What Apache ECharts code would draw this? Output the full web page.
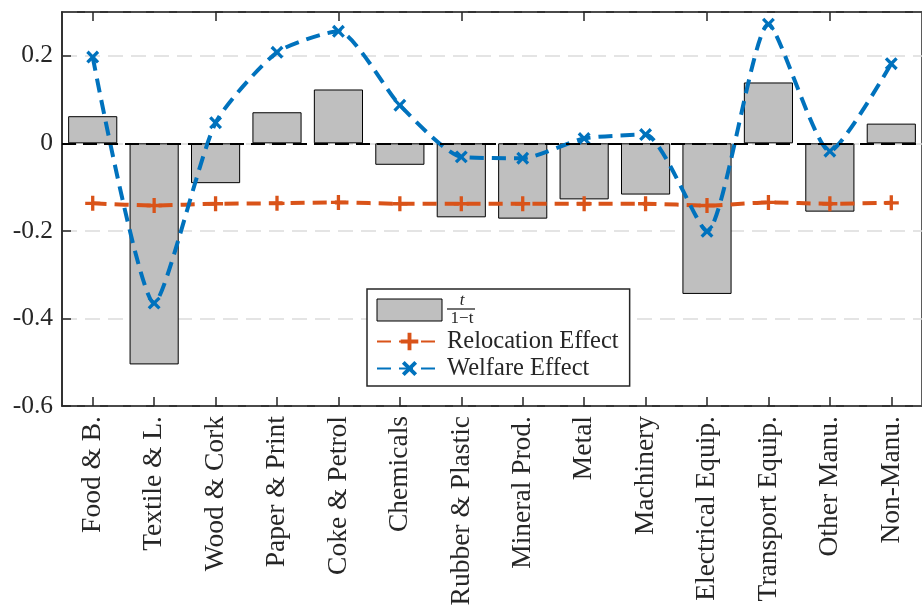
<!DOCTYPE html>
<html><head><meta charset="utf-8">
<script src="https://cdn.jsdelivr.net/npm/echarts@6/dist/echarts.min.js"></script>
<style>html,body{margin:0;padding:0;background:#fff}#c{width:922px;height:613px}</style>
</head><body><div id="c"></div>
<script>
const categories = ['Food & B.', 'Textile & L.', 'Wood & Cork', 'Paper & Print', 'Coke & Petrol', 'Chemicals', 'Rubber & Plastic', 'Mineral Prod.', 'Metal', 'Machinery', 'Electrical Equip.', 'Transport Equip.', 'Other Manu.', 'Non-Manu.'];
const taxRatio = [0.062, -0.505, -0.091, 0.071, 0.123, -0.049, -0.169, -0.172, -0.128, -0.117, -0.344, 0.139, -0.156, 0.045];
const relocationEffect = [-0.137, -0.142, -0.138, -0.137, -0.135, -0.138, -0.138, -0.138, -0.138, -0.138, -0.142, -0.135, -0.138, -0.136];
const welfareEffect = [0.197, -0.365, 0.047, 0.208, 0.256, 0.087, -0.031, -0.034, 0.011, 0.020, -0.201, 0.272, -0.018, 0.182];
const yMin = -0.6, yMax = 0.3, yStep = 0.2;
const seriesNames = ['t/(1−t)', 'Relocation Effect', 'Welfare Effect'];

const FONT = '"Liberation Serif", "Times New Roman", serif';
const INK = '#262626';
const plusPath = 'path://M-0.22,-1H0.22V-0.22H1V0.22H0.22V1H-0.22V0.22H-1V-0.22H-0.22Z';

const chart = echarts.init(document.getElementById('c'), null, {renderer: 'canvas'});
chart.setOption({
  animation: false,
  backgroundColor: '#fff',
  grid: {left: 62, top: 12, right: -11, bottom: 207, show: true, borderColor: INK, borderWidth: 1.5, backgroundColor: 'transparent'},
  legend: {
    orient: 'vertical', left: 367, top: 289,
    padding: [3, 11, 5, 9], itemGap: 2,
    itemWidth: 65, itemHeight: 22,
    backgroundColor: '#fff', borderColor: INK, borderWidth: 1.5, borderRadius: 0,
    data: [{name: seriesNames[0], icon: 'rect', itemStyle: {borderWidth: 1}}, {name: seriesNames[1]}, {name: seriesNames[2]}],
    textStyle: {fontFamily: FONT, fontSize: 24.5, color: INK, lineHeight: 25,
      rich: {
        num: {fontFamily: FONT, fontStyle: 'italic', fontSize: 17, lineHeight: 14, width: 30, align: 'center', color: INK},
        bar: {fontSize: 1, lineHeight: 3, height: 1.3, width: 28, backgroundColor: INK},
        den: {fontFamily: FONT, fontSize: 17, lineHeight: 16, width: 30, align: 'center', color: INK}
      }},
    formatter: function (name) {
      if (name === seriesNames[0]) return '{num|t}\n{bar| }\n{den|1−t}';
      return name;
    }
  },
  xAxis: [{
    type: 'category', data: categories, position: 'bottom', boundaryGap: true,
    axisLine: {show: true, onZero: false, lineStyle: {color: INK, width: 1.5}},
    axisTick: {show: true, inside: true, alignWithLabel: true, length: 9, lineStyle: {color: INK, width: 1.5}},
    axisLabel: {rotate: 90, margin: 10, fontFamily: FONT, fontSize: 27.5, color: INK, interval: 0},
    splitLine: {show: false}
  }, {
    type: 'category', data: categories, position: 'top', boundaryGap: true,
    axisLine: {show: true, onZero: false, lineStyle: {color: INK, width: 1.5}},
    axisTick: {show: true, inside: true, alignWithLabel: true, length: 9, lineStyle: {color: INK, width: 1.5}},
    axisLabel: {show: false}, splitLine: {show: false}
  }],
  yAxis: {
    type: 'value', min: yMin, max: yMax, interval: yStep,
    axisLine: {show: true, lineStyle: {color: INK, width: 1.5}},
    axisTick: {show: true, inside: true, length: 9, lineStyle: {color: INK, width: 1.5}},
    axisLabel: {fontFamily: FONT, fontSize: 25.5, color: INK, margin: 9, showMaxLabel: false,
      formatter: function (v) { return String(Math.round(v * 10) / 10); }},
    splitLine: {show: true, lineStyle: {color: '#dcdcdc', width: 1.5, type: [15, 8]}}
  },
  series: [{
    name: seriesNames[0], type: 'bar', data: taxRatio, barWidth: '80%',
    itemStyle: {color: '#bfbfbf', borderColor: '#000', borderWidth: 1},
    markLine: {silent: true, symbol: 'none', label: {show: false},
      lineStyle: {color: '#000', width: 2, type: [14, 7]}, data: [{yAxis: 0}]}
  }, {
    name: seriesNames[1], type: 'line', data: relocationEffect, smooth: 0.2,
    symbol: plusPath, symbolSize: 15,
    lineStyle: {color: '#D95319', width: 4, type: [14, 8]},
    itemStyle: {color: '#D95319'}
  }, {
    name: seriesNames[2], type: 'line', data: welfareEffect, smooth: 0.2,
    symbol: plusPath, symbolSize: 15, symbolRotate: 45,
    lineStyle: {color: '#0072BD', width: 4, type: [14, 8]},
    itemStyle: {color: '#0072BD'}
  }]
});
</script></body></html>
